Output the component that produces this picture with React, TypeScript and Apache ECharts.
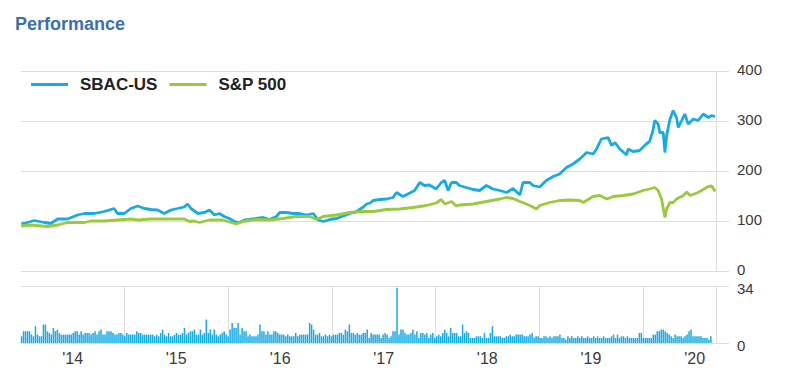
import React, { useEffect, useRef } from "react";
import * as echarts from "echarts";

const sbacDates = [
  "2014-01-02","2014-01-12","2014-02-17","2014-03-24","2014-04-16","2014-05-10","2014-06-14","2014-07-19","2014-08-12","2014-09-16","2014-10-21","2014-11-25","2014-12-07","2014-12-31",
  "2015-01-23","2015-02-16","2015-03-11","2015-04-04","2015-04-27","2015-05-21","2015-06-13","2015-07-07","2015-07-30","2015-08-11","2015-08-23","2015-09-16","2015-10-09","2015-10-27","2015-11-14","2015-12-01","2015-12-18",
  "2016-01-05","2016-01-23","2016-02-10","2016-02-27","2016-03-16","2016-04-09","2016-05-03","2016-05-26","2016-06-19","2016-07-01","2016-07-24","2016-08-17","2016-09-09","2016-10-03","2016-10-27","2016-11-13","2016-12-01","2016-12-24",
  "2017-01-17","2017-02-10","2017-03-05","2017-03-29","2017-04-21","2017-05-03","2017-05-15","2017-05-26","2017-06-18","2017-07-12","2017-08-04","2017-08-16","2017-09-08","2017-10-02","2017-10-19","2017-11-06","2017-11-23","2017-12-10",
  "2018-01-03","2018-01-21","2018-02-02","2018-02-14","2018-02-26","2018-03-15","2018-03-26","2018-04-19","2018-05-13","2018-06-05","2018-06-29","2018-07-22","2018-08-15","2018-09-08","2018-10-01","2018-10-25","2018-11-05","2018-11-29","2018-12-10",
  "2019-01-03","2019-01-26","2019-02-19","2019-03-14","2019-04-07","2019-04-30","2019-05-24","2019-06-17","2019-07-10","2019-07-22","2019-08-08","2019-09-01","2019-09-13","2019-09-25","2019-10-12","2019-11-05","2019-11-10","2019-11-28","2019-12-21",
  "2020-01-13","2020-01-25","2020-02-06","2020-02-12","2020-02-24","2020-03-01","2020-03-13","2020-03-19","2020-03-25","2020-04-06","2020-04-17","2020-04-29","2020-05-05","2020-05-17","2020-05-28","2020-06-09","2020-06-27","2020-07-14","2020-08-01","2020-08-19","2020-08-31","2020-09-12"
];
const sbacValues = [
  94,95,101,97,95,104,104,112,115,115,119,125,115,115,
  125,130,125,123,122,115,122,125,128,134,125,115,117,122,112,115,109,
  105,99,97,102,103,105,107,103,109,117,117,115,115,112,115,102,99,103,
  105,110,115,119,128,134,136,141,143,144,147,157,149,156,161,177,171,172,
  164,177,181,161,177,177,171,167,163,161,171,164,161,157,165,152,177,177,171,
  168,181,189,194,207,214,224,237,234,244,264,267,251,257,244,232,244,239,241,
  254,259,281,301,294,277,277,237,271,304,321,307,287,301,314,294,304,301,314,307,311,309
];

const spxDates = [
  "2014-01-02","2014-02-05","2014-04-05","2014-05-10","2014-06-14","2014-08-12","2014-09-04","2014-10-21","2014-12-07",
  "2015-01-23","2015-02-16","2015-04-04","2015-06-03","2015-07-30","2015-08-18","2015-09-02","2015-09-22","2015-10-27","2015-12-13",
  "2016-01-29","2016-02-21","2016-04-09","2016-05-26","2016-07-12","2016-08-28","2016-10-15","2016-11-08","2016-12-01",
  "2017-01-17","2017-03-05","2017-04-21","2017-05-26","2017-07-12","2017-08-27","2017-10-13","2017-11-29",
  "2018-01-03","2018-01-21","2018-02-02","2018-02-26","2018-03-15","2018-03-26","2018-05-13","2018-06-29","2018-08-15","2018-09-08","2018-10-01","2018-10-25","2018-11-17","2018-12-10","2018-12-22",
  "2019-01-03","2019-02-06","2019-03-14","2019-04-19","2019-05-24","2019-06-05","2019-07-10","2019-08-03","2019-08-27","2019-09-19","2019-10-24","2019-11-28",
  "2020-01-02","2020-01-25","2020-02-12","2020-02-24","2020-03-07","2020-03-19","2020-03-25","2020-04-06","2020-04-17","2020-04-29","2020-05-23","2020-06-04","2020-06-16","2020-07-10","2020-08-01","2020-08-19","2020-08-31","2020-09-12"
];
const spxValues = [
  90,92,89,92,97,97,100,100,102,
  104,102,104,104,104,99,100,97,102,102,
  94,99,103,102,105,109,109,103,109,
  112,117,119,119,123,124,127,131,
  136,143,134,139,130,132,134,139,144,147,145,139,134,128,124,
  131,137,141,142,141,137,149,151,144,149,151,154,
  161,164,167,161,144,107,124,137,137,144,151,158,151,156,163,169,170,159
];

// weekly volume, starting 2014-01-03
const volumeStart = "2014-01-03";
const volume2014 = [4,7,7,7,7,5,4,10,5,4,4,11,11,7,6,5,9,7,8,6,5,5,5,5,5,5,6,7,7,5,7,5,6,6,6,5,6,7,5,7,8,5,5,7,7,7,6,5,5,6,6,5];
const volume2015 = [4,6,5,5,5,5,7,6,6,5,5,5,5,5,5,4,5,4,6,8,5,4,6,4,4,5,6,5,5,6,9,5,6,7,7,8,5,5,8,5,6,14,6,8,5,8,5,4,5,6,7,5];
const volume2016 = [4,8,12,9,9,12,5,9,7,7,4,5,4,4,4,5,11,7,7,5,7,5,5,7,7,6,5,5,5,4,5,4,4,4,6,4,5,5,5,5,5,12,11,8,5,5,6,4,4,5,4,5];
const volume2017 = [4,5,5,5,6,6,5,8,7,11,6,6,5,6,5,5,6,6,8,3,6,5,5,5,5,3,5,6,5,3,4,7,7,33,5,8,8,6,5,5,6,8,5,7,3,6,6,5,6,3,5,6];
const volume2018 = [3,4,5,4,6,8,6,4,9,6,6,6,4,4,11,6,7,6,3,3,3,4,4,4,3,6,3,3,6,10,4,4,4,4,3,3,4,4,5,4,4,5,5,5,5,4,4,4,5,6,3,4];
const volume2019 = [4,3,3,4,4,3,4,3,4,4,4,5,3,3,2,4,3,4,3,3,4,3,4,3,3,4,3,3,4,3,4,3,3,4,3,3,3,4,5,3,5,3,4,4,3,4,3,3,3,3,3,6];
const volume2020 = [6,3,3,3,3,3,5,5,7,7,8,8,7,6,5,4,3,5,4,4,4,3,4,5,7,8,4,4,4,4,4,3,3,3,2,4];

const yearLabels = ["'14", "'15", "'16", "'17", "'18", "'19", "'20"];
const labelDates = ["2014-07-02","2015-07-02","2016-07-02","2017-07-02","2018-07-02","2019-07-02","2020-07-02"];

const BLUE = "#16abe6";
const GREEN = "#99c93c";
const GRAY = "#dedede";
const FONT = "'Liberation Sans', Arial, sans-serif";
const YEAR_MS = 31557600000;
const DAY_MS = 86400000;

export default function App() {
  const ref = useRef<HTMLDivElement>(null);
  useEffect(() => {
    if (!ref.current) return;
    const chart = echarts.init(ref.current, undefined, { renderer: "svg" });
    const xMin = Date.UTC(2014, 0, 1);
    const xMax = Date.UTC(2020, 8, 15);
    const sbac = sbacDates.map((d, i) => [Date.parse(d), sbacValues[i]]);
    const spx = spxDates.map((d, i) => [Date.parse(d), spxValues[i]]);
    const vols = [...volume2014, ...volume2015, ...volume2016, ...volume2017, ...volume2018, ...volume2019, ...volume2020];
    const v0 = Date.parse(volumeStart);
    const volData = vols.map((v, i) => [v0 + i * 7 * DAY_MS, v]);
    const labelTs = labelDates.map((d) => Date.parse(d));

    const yAxisCommon = {
      type: "value",
      position: "right",
      axisLine: { show: true, lineStyle: { color: GRAY, width: 1 } },
      axisTick: { show: true, length: 13, lineStyle: { color: GRAY } },
      splitLine: { show: true, lineStyle: { color: GRAY, width: 1 } },
    };
    const tokenBase = { fontSize: 15, lineHeight: 15, color: "#3a3a3a", fontFamily: FONT };

    chart.setOption({
      animation: false,
      backgroundColor: "#ffffff",
      title: {
        text: "Performance",
        left: 10,
        top: 10,
        textStyle: { fontSize: 18, fontWeight: "bold", color: "#3b6fb0", fontFamily: FONT },
      },
      legend: {
        left: 26,
        top: 71,
        icon: "rect",
        itemWidth: 37,
        itemHeight: 3,
        itemGap: 12,
        data: ["SBAC-US", "S&P 500"],
        textStyle: { fontSize: 17, fontWeight: "bold", color: "#222", fontFamily: FONT, padding: [0, 0, 0, 7] },
      },
      grid: [
        { left: 21, right: 73, top: 71, height: 200 },
        { left: 21, right: 73, top: 286, height: 57 },
      ],
      xAxis: [
        {
          type: "value", gridIndex: 0, min: xMin, max: xMax,
          axisLine: { show: false }, axisTick: { show: false }, axisLabel: { show: false }, splitLine: { show: false },
        },
        {
          type: "value", gridIndex: 1, min: xMin, max: xMax, interval: YEAR_MS,
          axisLine: { show: true, lineStyle: { color: GRAY } },
          axisTick: { show: false },
          splitLine: { show: true, showMinLine: false, lineStyle: { color: GRAY } },
          axisLabel: {
            customValues: labelTs,
            margin: 7,
            fontSize: 16,
            color: "#3a3a3a",
            fontFamily: FONT,
            formatter: (v: number) => {
              const idx = labelTs.findIndex((t) => Math.abs(t - v) < 40 * DAY_MS);
              return idx >= 0 ? yearLabels[idx] : "";
            },
          },
        },
      ],
      yAxis: [
        {
          ...yAxisCommon, gridIndex: 0, min: 0, max: 400, interval: 100,
          axisLabel: {
            margin: 21,
            formatter: (v: number) => `{t|${v}}`,
            rich: { t: { ...tokenBase, padding: [0, 0, 4, 0] } },
          },
        },
        {
          ...yAxisCommon, gridIndex: 1, min: 0, max: 34, interval: 34,
          axisLabel: {
            margin: 21,
            formatter: (v: number) => `{t|${v}}`,
            rich: { t: { ...tokenBase, padding: [4, 0, 0, 0] } },
          },
        },
      ],
      series: [
        {
          name: "SBAC-US", type: "line", xAxisIndex: 0, yAxisIndex: 0, data: sbac,
          showSymbol: false, color: BLUE, lineStyle: { color: BLUE, width: 2.8 },
        },
        {
          name: "S&P 500", type: "line", xAxisIndex: 0, yAxisIndex: 0, data: spx,
          showSymbol: false, color: GREEN, lineStyle: { color: GREEN, width: 2.8 },
        },
        {
          name: "Volume", type: "bar", xAxisIndex: 1, yAxisIndex: 1, data: volData,
          barWidth: 1.5, itemStyle: { color: BLUE },
        },
      ],
    });
    return () => chart.dispose();
  }, []);
  return <div ref={ref} style={{ position: "fixed", left: 0, top: 0, width: 789, height: 375 }} />;
}
